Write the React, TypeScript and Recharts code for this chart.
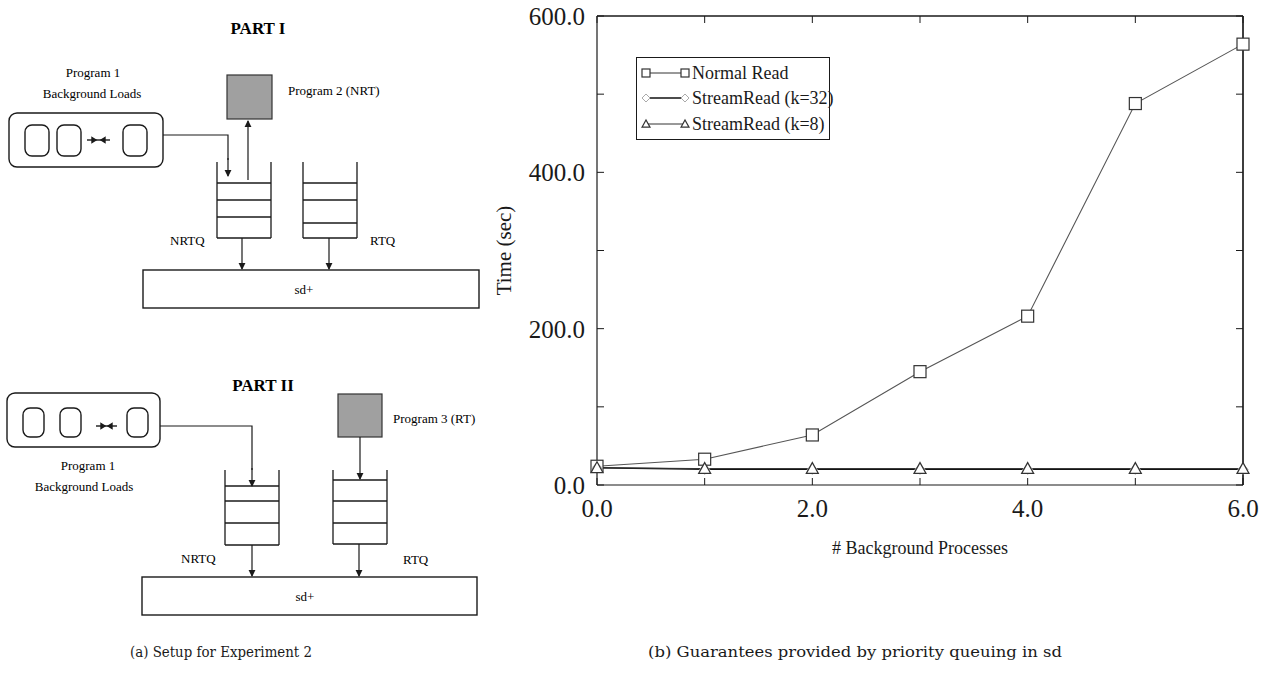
import { LineChart, Line, XAxis, YAxis, Legend, ReferenceLine } from 'recharts';

// # background processes on the x axis
const PROCESSES = [0, 1, 2, 3, 4, 5, 6];
// Time (sec)
const NORMAL_READ = [24, 33, 64, 145, 216, 488, 564];
const STREAM_READ_32 = [22, 20, 20, 20, 20, 20, 20];
const STREAM_READ_8 = [22, 21, 21, 21, 21, 21, 21];

const X_TICKS = [0, 1, 2, 3, 4, 5, 6];
const X_LABELED = [0, 2, 4, 6];
const Y_TICKS = [0, 100, 200, 300, 400, 500, 600];
const Y_LABELED = [0, 200, 400, 600];

const LEGEND_ITEMS = ['Normal Read', 'StreamRead (k=32)', 'StreamRead (k=8)'];

const SERIF = '"Liberation Serif", "Times New Roman", serif';
const CAPTION_FONT = '"DejaVu Serif", serif';
const INK = '#1a1a1a';
const TICK_LEN = 7;

const data = PROCESSES.map((p, i) => ({
  p,
  normal: NORMAL_READ[i],
  s32: STREAM_READ_32[i],
  s8: STREAM_READ_8[i],
}));

// ---- markers (size = half width) ----
const Square = ({ cx, cy, size = 6 }: any) =>
  cx == null ? null : (
    <rect x={cx - size} y={cy - size} width={2 * size} height={2 * size} fill="#fff" stroke="#333" strokeWidth={1.2} />
  );

const Diamond = ({ cx, cy, size = 5 }: any) =>
  cx == null ? null : (
    <path
      d={`M${cx - size},${cy} L${cx},${cy - size} L${cx + size},${cy} L${cx},${cy + size} Z`}
      fill="#fff"
      stroke="#aaa"
      strokeWidth={1}
    />
  );

const Triangle = ({ cx, cy, size = 6 }: any) =>
  cx == null ? null : (
    <path
      d={`M${cx - size},${cy + size * 0.8} L${cx},${cy - size} L${cx + size},${cy + size * 0.8} Z`}
      fill="#fff"
      stroke="#333"
      strokeWidth={1.2}
    />
  );

// ---- inward ticks on all four sides ----
const BottomTick = ({ x, y, payload }: any) => (
  <g>
    <line x1={x} y1={y} x2={x} y2={y - TICK_LEN} stroke={INK} />
    {X_LABELED.includes(payload.value) && (
      <text x={x} y={y + 32} textAnchor="middle" fontFamily={SERIF} fontSize={25} fill={INK}>
        {payload.value.toFixed(1)}
      </text>
    )}
  </g>
);

const TopTick = ({ x, y }: any) => <line x1={x} y1={y} x2={x} y2={y + TICK_LEN} stroke={INK} />;

const LeftTick = ({ x, y, payload }: any) => (
  <g>
    <line x1={x} y1={y} x2={x + TICK_LEN} y2={y} stroke={INK} />
    {Y_LABELED.includes(payload.value) && (
      <text x={x - 12} y={y + 9} textAnchor="end" fontFamily={SERIF} fontSize={25} fill={INK}>
        {payload.value.toFixed(1)}
      </text>
    )}
  </g>
);

const RightTick = ({ x, y }: any) => <line x1={x} y1={y} x2={x - TICK_LEN} y2={y} stroke={INK} />;

const LEGEND_MARKERS = [Square, Diamond, Triangle];
const LEGEND_STROKES = ['#333', '#111', '#333'];

const LegendBox = () => (
  <div
    style={{
      width: 194,
      height: 83,
      boxSizing: 'border-box',
      border: `1px solid ${INK}`,
      background: '#fff',
      fontFamily: SERIF,
      fontSize: 18,
      color: INK,
      paddingTop: 2,
    }}
  >
    {LEGEND_ITEMS.map((name, i) => {
      const M = LEGEND_MARKERS[i];
      return (
        <div key={name} style={{ display: 'flex', alignItems: 'center', height: 25.5, whiteSpace: 'nowrap' }}>
          <svg width={54} height={14} style={{ flex: 'none' }}>
            <line x1={9} y1={7} x2={48} y2={7} stroke={LEGEND_STROKES[i]} strokeWidth={i === 1 ? 1.5 : 1} />
            <M cx={9} cy={7} size={4} />
            <M cx={48} cy={7} size={4} />
          </svg>
          <span style={{ marginLeft: 1, lineHeight: '20px' }}>{name}</span>
        </div>
      );
    })}
  </div>
);

// ---- left panel: experiment setup diagram ----
const Arrow = ({ x1, y1, x2, y2 }: any) => (
  <line x1={x1} y1={y1} x2={x2} y2={y2} stroke={INK} strokeWidth={1.2} markerEnd="url(#head)" />
);

const Queue = ({ x, top, bottom, lines }: any) => (
  <g stroke={INK} strokeWidth={1.3} fill="none">
    <line x1={x} y1={top} x2={x} y2={bottom} />
    <line x1={x + 54} y1={top} x2={x + 54} y2={bottom} />
    <line x1={x} y1={bottom} x2={x + 54} y2={bottom} />
    {lines.map((ly: number) => (
      <line key={ly} x1={x} y1={ly} x2={x + 54} y2={ly} />
    ))}
  </g>
);

const Loads = ({ x, y, w, h, boxes, bw, bh, by, ay }: any) => (
  <g stroke={INK} strokeWidth={1.4} fill="none">
    <rect x={x} y={y} width={w} height={h} rx={8} />
    {boxes.map((bx: number) => (
      <rect key={bx} x={bx} y={by} width={bw} height={bh} rx={7} />
    ))}
    <line x1={ay[0]} y1={ay[2]} x2={ay[1]} y2={ay[2]} />
    <path d={`M${ay[0] + 5},${ay[2] - 2.5} L${ay[0] + 9},${ay[2]} L${ay[0] + 5},${ay[2] + 2.5} Z`} fill={INK} />
    <path d={`M${ay[1] - 5},${ay[2] - 2.5} L${ay[1] - 9},${ay[2]} L${ay[1] - 5},${ay[2] + 2.5} Z`} fill={INK} />
  </g>
);

const small = { fontFamily: SERIF, fontSize: 13, fill: '#000' } as const;
const heading = { fontFamily: SERIF, fontSize: 17, fill: '#000', fontWeight: 'bold' } as const;

const SetupDiagram = () => (
  <svg width={1265} height={681} style={{ position: 'absolute', left: 0, top: 0 }}>
    <defs>
      <marker id="head" viewBox="0 0 8 8" refX={7} refY={4} markerWidth={6} markerHeight={6} orient="auto">
        <path d="M0,0 L8,4 L0,8 Z" fill={INK} />
      </marker>
    </defs>

    {/* PART I */}
    <text x={258} y={34} textAnchor="middle" {...heading}>PART I</text>
    <text x={93} y={77} textAnchor="middle" {...small}>Program 1</text>
    <text x={92} y={98} textAnchor="middle" {...small}>Background Loads</text>
    <Loads x={9} y={113} w={154} h={54} boxes={[25, 57, 123]} bw={24} bh={31} by={125} ay={[87, 110, 140]} />
    <polyline points="163,135 228,135 228,160" fill="none" stroke={INK} strokeWidth={1.2} />
    <Arrow x1={228} y1={158} x2={228} y2={176} />
    <rect x={227} y={75} width={45} height={44} fill="#a0a0a0" stroke="#333" strokeWidth={1.2} />
    <Arrow x1={248} y1={180} x2={248} y2={121} />
    <text x={288} y={95} {...small}>Program 2 (NRT)</text>
    <Queue x={217} top={162} bottom={238} lines={[183, 200, 217]} />
    <text x={170} y={245} {...small}>NRTQ</text>
    <Arrow x1={242} y1={238} x2={242} y2={269} />
    <Queue x={303} top={162} bottom={238} lines={[183, 200, 223]} />
    <text x={370} y={245} {...small}>RTQ</text>
    <Arrow x1={329} y1={238} x2={329} y2={269} />
    <rect x={143} y={270} width={336} height={38} fill="none" stroke={INK} strokeWidth={1.4} />
    <text x={304} y={294} textAnchor="middle" {...small}>sd+</text>

    {/* PART II */}
    <text x={263} y={391} textAnchor="middle" {...heading}>PART II</text>
    <Loads x={7} y={393} w={153} h={54} boxes={[23, 60, 127]} bw={21} bh={29} by={408} ay={[96, 117, 426]} />
    <text x={88} y={470} textAnchor="middle" {...small}>Program 1</text>
    <text x={84} y={491} textAnchor="middle" {...small}>Background Loads</text>
    <polyline points="160,426 252,426 252,470" fill="none" stroke={INK} strokeWidth={1.2} />
    <Arrow x1={252} y1={468} x2={252} y2={486} />
    <Queue x={225} top={470} bottom={545} lines={[486, 501, 523]} />
    <text x={181} y={563} {...small}>NRTQ</text>
    <Arrow x1={252} y1={545} x2={252} y2={576} />
    <rect x={338} y={394} width={44} height={43} fill="#a0a0a0" stroke="#333" strokeWidth={1.2} />
    <text x={393} y={423} {...small}>Program 3 (RT)</text>
    <Arrow x1={360} y1={437} x2={360} y2={479} />
    <Queue x={333} top={470} bottom={544} lines={[480, 501, 523]} />
    <text x={403} y={564} {...small}>RTQ</text>
    <Arrow x1={359} y1={544} x2={359} y2={576} />
    <rect x={142} y={577} width={335} height={38} fill="none" stroke={INK} strokeWidth={1.4} />
    <text x={305} y={601} textAnchor="middle" {...small}>sd+</text>

    {/* captions */}
    <text x={130} y={657} fontFamily={CAPTION_FONT} fontSize={14.5} fill={INK} textLength={182} lengthAdjust="spacingAndGlyphs">
      (a) Setup for Experiment 2
    </text>
    <text x={648} y={657} fontFamily={CAPTION_FONT} fontSize={14.5} fill={INK} textLength={414} lengthAdjust="spacingAndGlyphs">
      (b) Guarantees provided by priority queuing in sd
    </text>
  </svg>
);

export default function App() {
  return (
    <div style={{ position: 'absolute', left: 0, top: 0, width: 1265, height: 681, background: '#fff', overflow: 'hidden' }}>
      <SetupDiagram />
      <div style={{ position: 'absolute', left: 480, top: 0 }}>
        <LineChart width={785} height={681} data={data} margin={{ top: 15, right: 21, bottom: 116, left: 0 }}>
          <XAxis
            dataKey="p"
            type="number"
            domain={[0, 6]}
            ticks={X_TICKS}
            interval={0}
            height={80}
            tickSize={0}
            tickMargin={0}
            tickLine={false}
            axisLine={{ stroke: INK, strokeWidth: 1.2 }}
            tick={<BottomTick />}
            label={{ value: '# Background Processes', position: 'center', dy: 23, fontFamily: SERIF, fontSize: 18, fill: INK }}
          />
          <XAxis
            xAxisId="top"
            orientation="top"
            dataKey="p"
            type="number"
            domain={[0, 6]}
            ticks={X_TICKS}
            interval={0}
            height={1}
            tickSize={0}
            tickMargin={0}
            tickLine={false}
            axisLine={{ stroke: INK, strokeWidth: 1.2 }}
            tick={<TopTick />}
          />
          <YAxis
            type="number"
            domain={[0, 600]}
            ticks={Y_TICKS}
            interval={0}
            width={117}
            tickSize={0}
            tickMargin={0}
            tickLine={false}
            axisLine={{ stroke: INK, strokeWidth: 1.2 }}
            tick={<LeftTick />}
            label={{ value: 'Time (sec)', angle: -90, position: 'center', dx: -35, fontFamily: SERIF, fontSize: 21, fill: INK }}
          />
          <YAxis
            yAxisId="right"
            orientation="right"
            type="number"
            domain={[0, 600]}
            ticks={Y_TICKS}
            interval={0}
            width={1}
            tickSize={0}
            tickMargin={0}
            tickLine={false}
            axisLine={{ stroke: INK, strokeWidth: 1.2 }}
            tick={<RightTick />}
          />
          {/* frame edges opposite the labelled axes */}
          <ReferenceLine y={600} stroke={INK} strokeWidth={1.2} />
          <ReferenceLine x={6} stroke={INK} strokeWidth={1.2} />
          {/* invisible series so the mirrored tick axes get drawn */}
          <Line
            xAxisId="top"
            yAxisId="right"
            dataKey="normal"
            stroke="none"
            dot={false}
            activeDot={false}
            legendType="none"
            isAnimationActive={false}
          />
          <Line dataKey="normal" name={LEGEND_ITEMS[0]} stroke="#555" strokeWidth={1.1} dot={<Square />} isAnimationActive={false} />
          <Line dataKey="s32" name={LEGEND_ITEMS[1]} stroke="#111" strokeWidth={1.5} dot={<Diamond />} isAnimationActive={false} />
          <Line dataKey="s8" name={LEGEND_ITEMS[2]} stroke="#333" strokeWidth={1} dot={<Triangle />} isAnimationActive={false} />
          <Legend
            content={<LegendBox />}
            layout="vertical"
            align="center"
            verticalAlign="middle"
            wrapperStyle={{ left: 156, top: 57 }}
          />
        </LineChart>
      </div>
    </div>
  );
}
